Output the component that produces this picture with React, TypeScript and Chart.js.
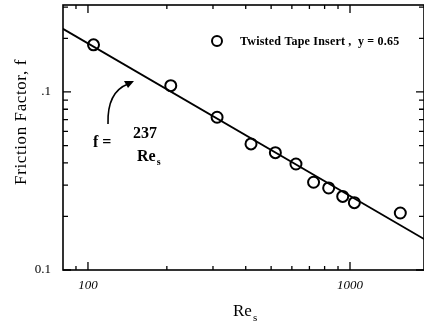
import React, { useEffect, useRef } from "react";
import { Chart, registerables } from "chart.js";

Chart.register(...registerables);

// ---- data ----
const reValues = [105, 207, 311, 419, 519, 622, 726, 829, 938, 1039, 1556];
const fValues = [0.184, 0.1085, 0.0721, 0.0511, 0.0456, 0.0394, 0.0311, 0.0289, 0.0259, 0.0239, 0.0209];
const fitRe = [80, 2000];
const fitF = [0.227, 0.0144];

const xTickValues = [100, 1000];
const xTickLabels = ["100", "1000"];
const yTickValues = [0.01, 0.1];
const yTickLabels = ["0.1", ".1"];
const xMinorTicks = [90, 200, 300, 400, 500, 600, 700, 800, 900, 2000];
const yMinorTicks = [0.02, 0.03, 0.04, 0.05, 0.06, 0.07, 0.08, 0.09, 0.2, 0.3];

const seriesLabel = "Twisted Tape Insert ,  y = 0.65";
const yTitle = "Friction Factor, f";
const xTitle = "Re";
const xTitleSub = "s";
const eqLeft = "f =";
const eqNum = "237";
const eqDen = "Re";
const eqSub = "s";

const SERIF = "'Liberation Serif', 'Times New Roman', serif";

const decorPlugin = {
  id: "decor",
  afterDatasetsDraw(chart: any) {
    const ctx: CanvasRenderingContext2D = chart.ctx;
    const { left, right, top, bottom } = chart.chartArea;
    const xs = chart.scales.x;
    const ys = chart.scales.y;
    ctx.save();
    ctx.strokeStyle = "#000";
    ctx.fillStyle = "#000";

    // frame
    ctx.lineWidth = 1.6;
    ctx.strokeRect(left, top, right - left, bottom - top);

    // ticks (inward, all sides)
    ctx.lineWidth = 1.3;
    const xTick = (v: number, len: number) => {
      const px = xs.getPixelForValue(v);
      ctx.beginPath();
      ctx.moveTo(px, bottom);
      ctx.lineTo(px, bottom - len);
      ctx.moveTo(px, top);
      ctx.lineTo(px, top + len);
      ctx.stroke();
    };
    const yTick = (v: number, len: number) => {
      const py = ys.getPixelForValue(v);
      ctx.beginPath();
      ctx.moveTo(left, py);
      ctx.lineTo(left + len, py);
      ctx.moveTo(right, py);
      ctx.lineTo(right - len, py);
      ctx.stroke();
    };
    xTickValues.forEach((v) => xTick(v, 8));
    xMinorTicks.forEach((v) => xTick(v, 4));
    yTickValues.forEach((v) => yTick(v, 8));
    yMinorTicks.forEach((v) => yTick(v, 5));

    // y title
    ctx.save();
    ctx.translate(22, 122);
    ctx.rotate(-Math.PI / 2);
    ctx.font = `17px ${SERIF}`;
    (ctx as any).letterSpacing = "0.6px";
    ctx.textAlign = "center";
    ctx.textBaseline = "middle";
    ctx.fillText(yTitle, 0, 0);
    ctx.restore();

    // x title with subscript
    ctx.font = `17px ${SERIF}`;
    ctx.textAlign = "left";
    ctx.textBaseline = "middle";
    ctx.fillText(xTitle, 233, 312);
    const rw = ctx.measureText(xTitle).width;
    ctx.font = `11px ${SERIF}`;
    ctx.fillText(xTitleSub, 233 + rw + 1, 318);

    // legend
    ctx.lineWidth = 2;
    ctx.beginPath();
    ctx.arc(217, 41, 5, 0, Math.PI * 2);
    ctx.stroke();
    ctx.save();
    ctx.font = `bold 12px ${SERIF}`;
    (ctx as any).letterSpacing = "0.2px";
    ctx.textAlign = "left";
    ctx.textBaseline = "middle";
    ctx.fillText(seriesLabel, 240, 42);
    ctx.restore();

    // equation annotation
    ctx.font = `bold 16px ${SERIF}`;
    ctx.textBaseline = "middle";
    ctx.textAlign = "left";
    ctx.fillText(eqLeft, 93, 143);
    ctx.fillText(eqNum, 133, 134);
    ctx.fillText(eqDen, 137, 157);
    const dw = ctx.measureText(eqDen).width;
    ctx.font = `bold 10px ${SERIF}`;
    ctx.fillText(eqSub, 137 + dw + 1, 162);

    // curved arrow
    ctx.lineWidth = 1.6;
    ctx.beginPath();
    ctx.moveTo(108, 124);
    ctx.quadraticCurveTo(107, 92, 128, 84);
    ctx.stroke();
    ctx.beginPath();
    ctx.moveTo(134, 81);
    ctx.lineTo(124, 81);
    ctx.lineTo(128, 88);
    ctx.closePath();
    ctx.fill();

    ctx.restore();
  },
};

export default function App() {
  const ref = useRef<HTMLCanvasElement | null>(null);

  useEffect(() => {
    if (!ref.current) return;
    const chart = new Chart(ref.current, {
      type: "scatter",
      data: {
        datasets: [
          {
            label: "fit",
            data: fitRe.map((x, i) => ({ x, y: fitF[i] })),
            showLine: true,
            borderColor: "#000",
            borderWidth: 1.8,
            pointRadius: 0,
            fill: false,
          },
          {
            label: seriesLabel,
            data: reValues.map((x, i) => ({ x, y: fValues[i] })),
            showLine: false,
            pointStyle: "circle",
            pointRadius: 5.5,
            borderColor: "#000",
            borderWidth: 2,
            backgroundColor: "rgba(255,255,255,0)",
          },
        ],
      },
      options: {
        animation: false,
        responsive: false,
        layout: { autoPadding: false, padding: { top: 5, left: 0, right: 0, bottom: 0 } },
        plugins: {
          legend: { display: false },
          tooltip: { enabled: false },
        },
        scales: {
          x: {
            type: "logarithmic",
            min: 80.3,
            max: 1916,
            afterFit: (s: any) => {
              s.height = 58;
              s.paddingLeft = 0;
              s.paddingRight = 0;
            },
            afterBuildTicks: (s: any) => {
              s.ticks = xTickValues.map((v) => ({ value: v }));
            },
            grid: { display: false, drawTicks: false },
            border: { display: false },
            ticks: {
              autoSkip: false,
              maxRotation: 0,
              padding: 8,
              color: "#000",
              font: { family: SERIF, size: 13, style: "italic" },
              callback: (v: any) => {
                const i = xTickValues.indexOf(Number(v));
                return i >= 0 ? xTickLabels[i] : "";
              },
            },
          },
          y: {
            type: "logarithmic",
            min: 0.01,
            max: 0.308,
            afterFit: (s: any) => {
              s.width = 63;
              s.paddingTop = 0;
              s.paddingBottom = 0;
            },
            afterBuildTicks: (s: any) => {
              s.ticks = yTickValues.map((v) => ({ value: v }));
            },
            grid: { display: false, drawTicks: false },
            border: { display: false },
            ticks: {
              autoSkip: false,
              padding: 12,
              color: "#000",
              font: { family: SERIF, size: 13 },
              callback: (v: any) => {
                const i = yTickValues.indexOf(Number(v));
                return i >= 0 ? yTickLabels[i] : "";
              },
            },
          },
        },
      },
      plugins: [decorPlugin],
    } as any);
    return () => chart.destroy();
  }, []);

  return (
    <div style={{ position: "absolute", left: 0, top: 0, width: 424, height: 328, background: "#fff" }}>
      <canvas ref={ref} width={424} height={328} style={{ display: "block" }} />
    </div>
  );
}
